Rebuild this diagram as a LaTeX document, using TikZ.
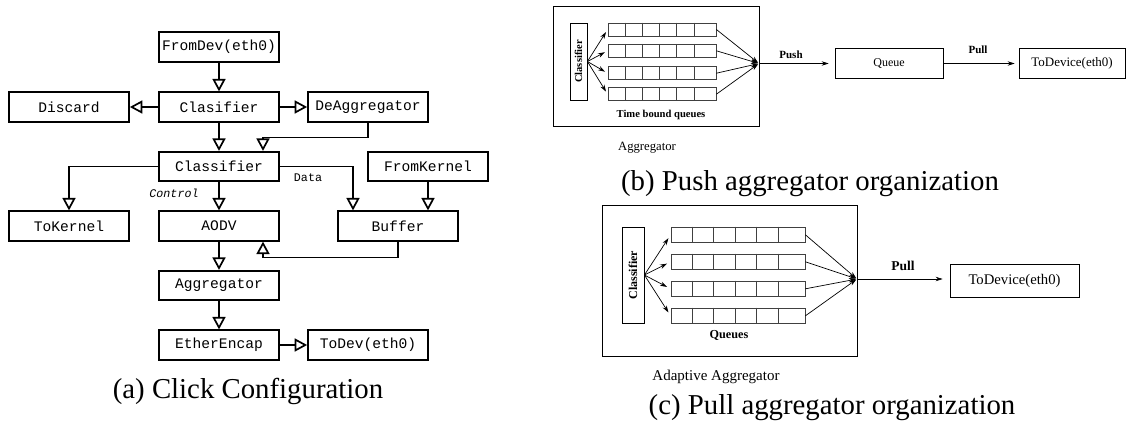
\documentclass[tikz,border=0pt]{standalone}
\usepackage{fontspec}
\usepackage{graphicx}
\setmainfont{Liberation Serif}
\setmonofont{Liberation Mono}
\usetikzlibrary{arrows.meta}
\tikzset{
	cbox/.style={draw,line width=1.7pt,minimum width=120pt,minimum height=29.5pt,inner sep=0pt,font=\fontsize{14.6}{16}\selectfont\ttfamily},
	oarr/.style={line width=1.7pt,-{Triangle[open,length=12.5pt,width=13pt]}},
	flbl/.style={inner sep=0pt,font=\fontsize{11.7}{13}\selectfont\ttfamily},
	fbox/.style={draw,line width=0.8pt,inner sep=0pt},
	qrow/.style={draw=black!75,line width=0.8pt,inner sep=0pt,minimum width=#1},
	cell/.style={draw=black!75,line width=0.8pt},
	sarr/.style={line width=0.7pt,-{Stealth[length=7pt,width=4.5pt]}},
	figcap/.style={inner sep=0pt,font=\fontsize{28.8}{32}\selectfont}
}

\begin{document}
\begin{tikzpicture}[x=1pt,y=-1pt]
	\useasboundingbox (0,0) rectangle (1126,429);

	% (a) click configuration
	\node [cbox] (fromdev) at (219,47) {FromDev(eth0)};
	\node [cbox] (clasif) at (219,107) {Clasifier};
	\node [cbox] (discard) at (69,107) {Discard};
	\node [cbox] (deagg) at (368,107) {DeAggregator};
	\node [cbox] (classif) at (219,166.5) {Classifier};
	\node [cbox] (fromkern) at (428,166.5) {FromKernel};
	\node [cbox] (tokern) at (69,226) {ToKernel};
	\node [cbox] (aodv) at (219,226) {AODV};
	\node [cbox] (buffer) at (398,226) {Buffer};
	\node [cbox] (aggr) at (219,285.5) {Aggregator};
	\node [cbox] (ether) at (219,345) {EtherEncap};
	\node [cbox] (todev) at (368,345) {ToDev(eth0)};
	\node [flbl] (data) at (308,178) {Data};
	\node [flbl] (ctrl) at (174,193) {\itshape Control};

	\draw [oarr] (fromdev) -- (clasif);
	\draw [oarr] (clasif) -- (discard);
	\draw [oarr] (clasif) -- (deagg);
	\draw [oarr] (clasif) -- (classif);
	\draw [oarr] (deagg.south) -- ++(0,15) -| ([xshift=44pt]classif.north);
	\draw [oarr] (classif.west) -| (tokern.north);
	\draw [oarr] (classif) -- (aodv);
	\draw [oarr] (classif.east) -| ([xshift=-45pt]buffer.north);
	\draw [oarr] (fromkern.south) -- (fromkern.south |- buffer.north);
	\draw [oarr] (buffer.south) -- ++(0,16) -| ([xshift=44pt]aodv.south);
	\draw [oarr] (aodv) -- (aggr);
	\draw [oarr] (aggr) -- (ether);
	\draw [oarr] (ether) -- (todev);

	\node [figcap] (capa) at (248,391) {(a) Click Configuration};

	% (b) push aggregator
	\node [fbox,minimum width=206pt,minimum height=120pt] (bagg) at (656,66) {};
	\node [fbox,minimum width=17pt,minimum height=77pt,font=\fontsize{10.5}{12}\selectfont\bfseries] (bcls) at (578.5,61.5) {\rotatebox{90}{Classifier}};
	\coordinate (bmerge) at (759,63.5);
	\foreach \r/\yy in {1/29.5,2/50.8,3/73.2,4/94.2} {
		\node [qrow=108pt,minimum height=13pt] (bq\r) at (662,\yy) {};
		\foreach \cx in {17.3,34.6,51.9,69.2,86.5}
			\draw [cell] ([xshift=\cx pt]bq\r.north west) -- ([xshift=\cx pt]bq\r.south west);
		\draw [sarr,shorten >=3pt] (bcls.east) -- (bq\r.west);
		\draw [sarr,shorten >=1pt] (bq\r.east) -- (bmerge);
	}
	\node [inner sep=0pt,font=\fontsize{10.6}{12}\selectfont\bfseries] (bqlbl) at (661,115) {Time bound queues};
	\node [inner sep=0pt,font=\fontsize{12.7}{14}\selectfont] (bagglbl) at (647,148) {Aggregator};
	\node [fbox,minimum width=108pt,minimum height=30pt,font=\fontsize{12}{14}\selectfont] (bqueue) at (889,63.5) {Queue};
	\node [fbox,minimum width=106pt,minimum height=30pt,font=\fontsize{13}{15}\selectfont] (btodev) at (1072,63.5) {ToDevice(eth0)};
	\draw [sarr,shorten >=6pt] (bmerge) -- (bqueue.west);
	\draw [sarr,shorten >=4pt] (bqueue.east) -- (btodev.west);
	\node [inner sep=0pt,font=\fontsize{11}{13}\selectfont\bfseries] (bpush) at (791,55) {Push};
	\node [inner sep=0pt,font=\fontsize{11}{13}\selectfont\bfseries] (bpull) at (978,50) {Pull};

	\node [figcap] (capb) at (810,184) {(b) Push aggregator organization};

	% (c) pull aggregator
	\node [fbox,minimum width=255pt,minimum height=151pt] (cagg) at (729.5,280.5) {};
	\node [fbox,minimum width=22pt,minimum height=96pt,font=\fontsize{12}{14}\selectfont\bfseries] (ccls) at (633,275) {\rotatebox{90}{Classifier}};
	\coordinate (cmerge) at (857,279);
	\foreach \r/\yy in {1/234.8,2/261.8,3/288.8,4/315.8} {
		\node [qrow=134pt,minimum height=15.5pt] (cq\r) at (738,\yy) {};
		\foreach \cx in {21.5,43,64.5,86,107.5}
			\draw [cell] ([xshift=\cx pt]cq\r.north west) -- ([xshift=\cx pt]cq\r.south west);
		\draw [sarr,shorten >=4pt] (ccls.east) -- (cq\r.west);
		\draw [sarr,shorten >=1pt] (cq\r.east) -- (cmerge);
	}
	\node [inner sep=0pt,font=\fontsize{12.2}{14}\selectfont\bfseries] (cqlbl) at (729,335) {Queues};
	\node [inner sep=0pt,font=\fontsize{15}{17}\selectfont] (cagglbl) at (716,377) {Adaptive Aggregator};
	\node [fbox,minimum width=129pt,minimum height=33pt,font=\fontsize{14.7}{17}\selectfont] (ctodev) at (1014.5,280.5) {ToDevice(eth0)};
	\draw [sarr,shorten >=7pt] (cmerge) -- (cmerge -| ctodev.west);
	\node [inner sep=0pt,font=\fontsize{13.5}{15}\selectfont\bfseries] (cpull) at (903,266) {Pull};

	\node [figcap] (capc) at (832,408) {(c) Pull aggregator organization};
\end{tikzpicture}
\end{document}
